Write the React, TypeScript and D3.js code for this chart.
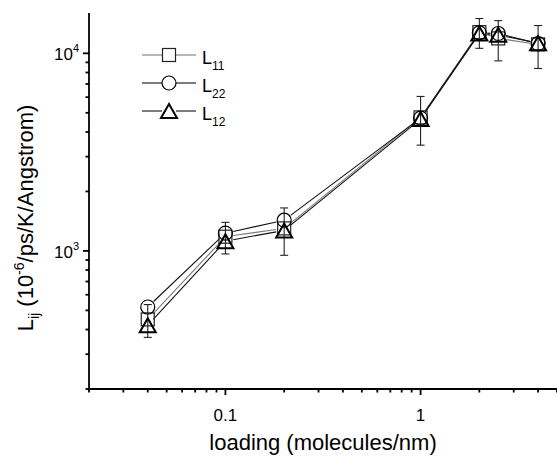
import React from 'react';
import * as d3 from 'd3';

// loading values (molecules/nm)
const loading = [0.04, 0.1, 0.2, 1, 2, 2.5, 4];
// Onsager coefficients, 10^-6/ps/K/Angstrom
const L11 = [450, 1180, 1300, 4740, 12800, 11900, 11100];
const L22 = [520, 1230, 1430, 4700, 12700, 12600, 11200];
const L12 = [420, 1120, 1270, 4650, 12600, 12400, 11250];
const L11Err = [85, 215, 350, 1310, 2200, 2740, 2720];

const xTickValues = [0.1, 1];
const xTickLabels = ['0.1', '1'];
const yTickValues = [1000, 10000];
const yTickExponents = ['3', '4'];
const legendNames = ['11', '22', '12'];

const W = 557;
const H = 456;
const margin = { top: 13, right: 0, bottom: 67, left: 89 };
const font = 'Liberation Sans, Arial, sans-serif';

const x = d3.scaleLog().domain([0.02, 5]).range([margin.left, W - margin.right]);
const y = d3.scaleLog().domain([200, 16000]).range([H - margin.bottom, margin.top]);

const series = [
  { key: 'L11', values: L11, shape: 'square', line: '#7a7a7a', stroke: '#222', sw: 1.2 },
  { key: 'L22', values: L22, shape: 'circle', line: '#111', stroke: '#000', sw: 1.2 },
  { key: 'L12', values: L12, shape: 'triangle', line: '#111', stroke: '#000', sw: 2 },
];

// segments between points, pulled back from the symbols
const gapSegments = (pts, gap) => {
  const segs = [];
  for (let i = 0; i < pts.length - 1; i++) {
    const [x1, y1] = pts[i];
    const [x2, y2] = pts[i + 1];
    const len = Math.hypot(x2 - x1, y2 - y1);
    if (len <= gap * 2) continue;
    const ux = (x2 - x1) / len;
    const uy = (y2 - y1) / len;
    segs.push([x1 + ux * gap, y1 + uy * gap, x2 - ux * gap, y2 - uy * gap]);
  }
  return segs;
};

const Marker = ({ shape, cx, cy, stroke, sw }) => {
  if (shape === 'square') {
    return <rect x={cx - 6.5} y={cy - 6.5} width={13} height={13} fill="none" stroke={stroke} strokeWidth={sw} />;
  }
  if (shape === 'circle') {
    return <circle cx={cx} cy={cy} r={7} fill="none" stroke={stroke} strokeWidth={sw} />;
  }
  return (
    <path
      d={`M${cx},${cy - 7} L${cx + 8},${cy + 7} L${cx - 8},${cy + 7} Z`}
      fill="none"
      stroke={stroke}
      strokeWidth={sw}
      strokeLinejoin="miter"
    />
  );
};

const App = () => {
  const y0 = H - margin.bottom;
  const xMinor = x.ticks().filter((v) => v >= 0.02 && v <= 5 && !xTickValues.includes(v));
  const yMinor = y.ticks().filter((v) => v >= 200 && v <= 16000 && !yTickValues.includes(v));

  return (
    <svg width={W} height={H} style={{ position: 'absolute', left: 0, top: 0, background: '#fff' }} fontFamily={font}>
      {/* connecting lines */}
      {series.map((s) => {
        const pts = loading.map((l, i) => [x(l), y(s.values[i])]);
        return gapSegments(pts, 8).map((sg, i) => (
          <line key={s.key + i} x1={sg[0]} y1={sg[1]} x2={sg[2]} y2={sg[3]} stroke={s.line} strokeWidth={1.1} />
        ));
      })}

      {/* error bars */}
      {loading.map((l, i) => {
        const cx = x(l);
        const top = y(L11[i] + L11Err[i]);
        const bot = y(L11[i] - L11Err[i]);
        return (
          <g key={'e' + i} stroke="#222" strokeWidth={1.1}>
            <line x1={cx} x2={cx} y1={top} y2={bot} />
            <line x1={cx - 4} x2={cx + 4} y1={top} y2={top} />
            <line x1={cx - 4} x2={cx + 4} y1={bot} y2={bot} />
          </g>
        );
      })}

      {/* symbols */}
      {series.map((s) =>
        loading.map((l, i) => (
          <Marker key={s.key + 'm' + i} shape={s.shape} cx={x(l)} cy={y(s.values[i])} stroke={s.stroke} sw={s.sw} />
        ))
      )}

      {/* axes */}
      <g stroke="#000" strokeWidth={1.8}>
        <line x1={margin.left} x2={margin.left} y1={margin.top} y2={y0 + 1} />
        <line x1={margin.left - 1} x2={W} y1={y0} y2={y0} />
        {xTickValues.map((v) => (
          <line key={'xt' + v} x1={x(v)} x2={x(v)} y1={y0} y2={y0 + 6} />
        ))}
        {xMinor.map((v) => (
          <line key={'xm' + v} x1={x(v)} x2={x(v)} y1={y0} y2={y0 + 3.5} />
        ))}
        {yTickValues.map((v) => (
          <line key={'yt' + v} x1={margin.left - 6} x2={margin.left} y1={y(v)} y2={y(v)} />
        ))}
        {yMinor.map((v) => (
          <line key={'ym' + v} x1={margin.left - 3.5} x2={margin.left} y1={y(v)} y2={y(v)} />
        ))}
      </g>

      {xTickValues.map((v, i) => (
        <text key={'xl' + v} x={x(v)} y={y0 + 32} textAnchor="middle" fontSize={17}>
          {xTickLabels[i]}
        </text>
      ))}
      {yTickValues.map((v, i) => (
        <text key={'yl' + v} x={margin.left - 10} y={y(v) + 7} textAnchor="end" fontSize={17}>
          10
          <tspan dy={-8} fontSize={11}>
            {yTickExponents[i]}
          </tspan>
        </text>
      ))}

      {/* axis titles */}
      <text x={(margin.left + W) / 2} y={450} textAnchor="middle" fontSize={22}>
        loading (molecules/nm)
      </text>
      <text transform="translate(33,218) rotate(-90)" textAnchor="middle" fontSize={22}>
        L
        <tspan dy={6} fontSize={14}>ij</tspan>
        <tspan dy={-6}> (10</tspan>
        <tspan dy={-9} fontSize={14}>-6</tspan>
        <tspan dy={9}>/ps/K/Angstrom)</tspan>
      </text>

      {/* legend */}
      {series.map((s, i) => {
        const ly = 55 + i * 28;
        return (
          <g key={'lg' + s.key}>
            <line x1={142} x2={162} y1={ly} y2={ly} stroke={s.line} strokeWidth={1.1} />
            <line x1={176} x2={196} y1={ly} y2={ly} stroke={s.line} strokeWidth={1.1} />
            <Marker shape={s.shape} cx={169} cy={ly} stroke={s.stroke} sw={s.sw} />
            <text x={202} y={ly + 9} fontSize={18}>
              L
              <tspan dy={6} fontSize={12}>{legendNames[i]}</tspan>
            </text>
          </g>
        );
      })}
    </svg>
  );
};

export default App;
